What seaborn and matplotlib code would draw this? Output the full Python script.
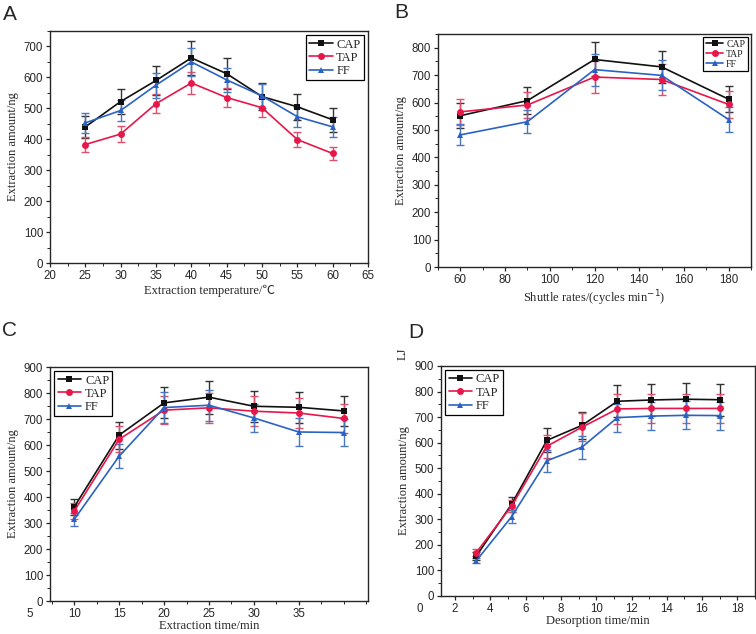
import numpy as np
import pandas as pd
import matplotlib
matplotlib.use("Agg")
import matplotlib.pyplot as plt
import matplotlib.transforms as mtransforms
import seaborn as sns
from matplotlib.ticker import MultipleLocator

# --- data ---
temp = [25, 30, 35, 40, 45, 50, 55, 60]
a_cap = [440, 522, 590, 663, 612, 538, 505, 463]
a_tap = [383, 417, 515, 582, 535, 502, 399, 354]
a_ff = [453, 493, 575, 650, 592, 540, 473, 440]
a_cap_err = [35, 40, 48, 55, 50, 45, 42, 38]
a_tap_err = [25, 25, 30, 35, 32, 30, 25, 22]
a_ff_err = [32, 35, 40, 45, 40, 40, 32, 32]

rate = [60, 90, 120, 150, 180]
b_cap = [552, 607, 757, 730, 612]
b_tap = [566, 591, 693, 684, 593]
b_ff = [482, 530, 720, 699, 538]
b_cap_err = [45, 50, 62, 57, 48]
b_tap_err = [47, 48, 57, 55, 48]
b_ff_err = [38, 42, 58, 55, 45]

ext_time = [10, 15, 20, 25, 30, 35, 40]
c_cap = [362, 638, 762, 784, 749, 745, 731]
c_tap = [346, 622, 734, 743, 730, 723, 702]
c_ff = [314, 557, 744, 753, 704, 650, 648]
c_cap_err = [30, 52, 60, 63, 60, 60, 58]
c_tap_err = [30, 50, 55, 58, 58, 58, 55]
c_ff_err = [25, 45, 60, 60, 55, 52, 52]

des_time = [3.2, 5.2, 7.2, 9.2, 11.2, 13.1, 15.1, 17.0]
d_cap = [156, 359, 609, 668, 762, 767, 770, 768]
d_tap = [170, 352, 586, 661, 732, 734, 734, 734]
d_ff = [138, 310, 529, 583, 698, 704, 707, 706]
d_cap_err = [15, 30, 47, 52, 62, 62, 62, 62]
d_tap_err = [12, 25, 45, 55, 58, 58, 58, 58]
d_ff_err = [10, 25, 42, 45, 55, 55, 55, 55]

series = ["CAP", "TAP", "FF"]
colors = {"CAP": "#111111", "TAP": "#e8174a", "FF": "#2a62c4"}
err_colors = {"CAP": "#333333", "TAP": "#e0506e", "FF": "#4a78c0"}
markers = {"CAP": "s", "TAP": "o", "FF": "^"}

sns.set_theme(style="ticks")
plt.rcParams.update({
    "font.family": "Liberation Sans",
    "xtick.direction": "out",
    "ytick.direction": "out",
    "xtick.labelsize": 8.3,
    "ytick.labelsize": 8.3,
    "axes.linewidth": 1.0,
})
SERIF = ["Liberation Serif", "Noto Sans CJK SC", "DejaVu Sans"]
TICK_FS = 8.3

fig = plt.figure(figsize=(7.56, 6.34), dpi=100)
W, H = 756, 634


def add_ax(l, t, r, b):
    return fig.add_axes([l / W, 1 - b / H, (r - l) / W, (b - t) / H])


def panel(ax, x, ys, errs, xlabel, legend_loc, leg_size, hlen):
    frames = []
    for name, y in zip(series, ys):
        frames.append(pd.DataFrame({"x": x, "y": y, "series": name}))
    df = pd.concat(frames, ignore_index=True)
    for name, e in zip(series, errs):
        d = df[df["series"] == name]
        ax.errorbar(d["x"], d["y"], yerr=e, fmt="none", ecolor=err_colors[name],
                    elinewidth=1.0, capsize=3, capthick=1.0, zorder=2)
    sns.lineplot(data=df, x="x", y="y", hue="series", style="series",
                 palette=colors, markers=markers, dashes=False,
                 markersize=5, linewidth=1.2, markeredgewidth=0,
                 ax=ax, zorder=3)
    ax.set_xlabel(xlabel, family=SERIF, fontsize=9, labelpad=2)
    ax.set_ylabel("Extraction amount/ng", family=SERIF, fontsize=9, labelpad=3)
    ax.tick_params(length=3, width=0.9, pad=2)
    ax.tick_params(which="minor", length=2, width=0.7)
    handles, labels = ax.get_legend_handles_labels()
    ax.legend(handles=handles, labels=labels, loc=legend_loc, fancybox=False,
              edgecolor="black", handlelength=hlen, borderpad=0.25,
              labelspacing=0.1, handletextpad=0.3, borderaxespad=0.35,
              prop={"family": SERIF, "size": leg_size}, framealpha=1)
    ax.get_legend().get_frame().set_linewidth(0.9)


def extra_xlabel(ax, xval, text):
    # tick label drawn outside the axis limits, as in the reference
    off = mtransforms.ScaledTranslation(0, -5 / 72, fig.dpi_scale_trans)
    ax.text(xval, 0, text, transform=ax.get_xaxis_transform() + off,
            ha="center", va="top", fontsize=TICK_FS, clip_on=False)


# A
axA = add_ax(50, 31, 368, 263)
panel(axA, temp, [a_cap, a_tap, a_ff], [a_cap_err, a_tap_err, a_ff_err],
      "Extraction temperature/\u2103", "upper right", 9, 1.9)
axA.set_xlim(20, 65)
axA.set_ylim(0, 750)
axA.xaxis.set_major_locator(MultipleLocator(5))
axA.xaxis.set_minor_locator(MultipleLocator(2.5))
axA.yaxis.set_major_locator(MultipleLocator(100))
axA.yaxis.set_minor_locator(MultipleLocator(50))

# B
axB = add_ax(438, 34, 751, 267)
panel(axB, rate, [b_cap, b_tap, b_ff], [b_cap_err, b_tap_err, b_ff_err],
      "Shuttle rates/(cycles min$^{-1}$)", "upper right", 7, 1.8)
axB.set_xlim(50, 190)
axB.set_ylim(0, 850)
axB.xaxis.set_major_locator(MultipleLocator(20))
axB.xaxis.set_minor_locator(MultipleLocator(10))
axB.yaxis.set_major_locator(MultipleLocator(100))
axB.yaxis.set_minor_locator(MultipleLocator(50))

# C
axC = add_ax(50, 367, 368, 601)
panel(axC, ext_time, [c_cap, c_tap, c_ff], [c_cap_err, c_tap_err, c_ff_err],
      "Extraction time/min", "upper left", 9, 1.9)
axC.set_xlim(7.3, 42.7)
axC.set_ylim(0, 900)
axC.set_xticks([10, 15, 20, 25, 30, 35])
axC.xaxis.set_minor_locator(MultipleLocator(2.5))
axC.yaxis.set_major_locator(MultipleLocator(100))
axC.yaxis.set_minor_locator(MultipleLocator(50))
extra_xlabel(axC, 5, "5")
axC.set_xlabel("Extraction time/min", family=SERIF, fontsize=9, labelpad=0)

# D
axD = add_ax(441, 366, 755, 596)
panel(axD, des_time, [d_cap, d_tap, d_ff], [d_cap_err, d_tap_err, d_ff_err],
      "Desorption time/min", "upper left", 9, 1.9)
axD.set_xlim(1.2, 19)
axD.set_ylim(0, 900)
axD.set_xticks([2, 4, 6, 8, 10, 12, 14, 16, 18])
axD.xaxis.set_minor_locator(MultipleLocator(1))
axD.yaxis.set_major_locator(MultipleLocator(100))
axD.yaxis.set_minor_locator(MultipleLocator(50))
extra_xlabel(axD, 0, "0")
axD.set_xlabel("Desorption time/min", family=SERIF, fontsize=9, labelpad=0)
fig.text(403 / W, 1 - 354 / H, "LJ", family=SERIF, fontsize=9, rotation=90,
         ha="center", va="center")

# panel letters
for letter, (x, y) in zip("ABCD", [(3, 14), (394, 12), (2, 331), (408, 332)]):
    fig.text(x / W, 1 - y / H, letter, fontsize=15, ha="left", va="center",
             family="Liberation Sans")

fig.savefig("out.png", dpi=100)
